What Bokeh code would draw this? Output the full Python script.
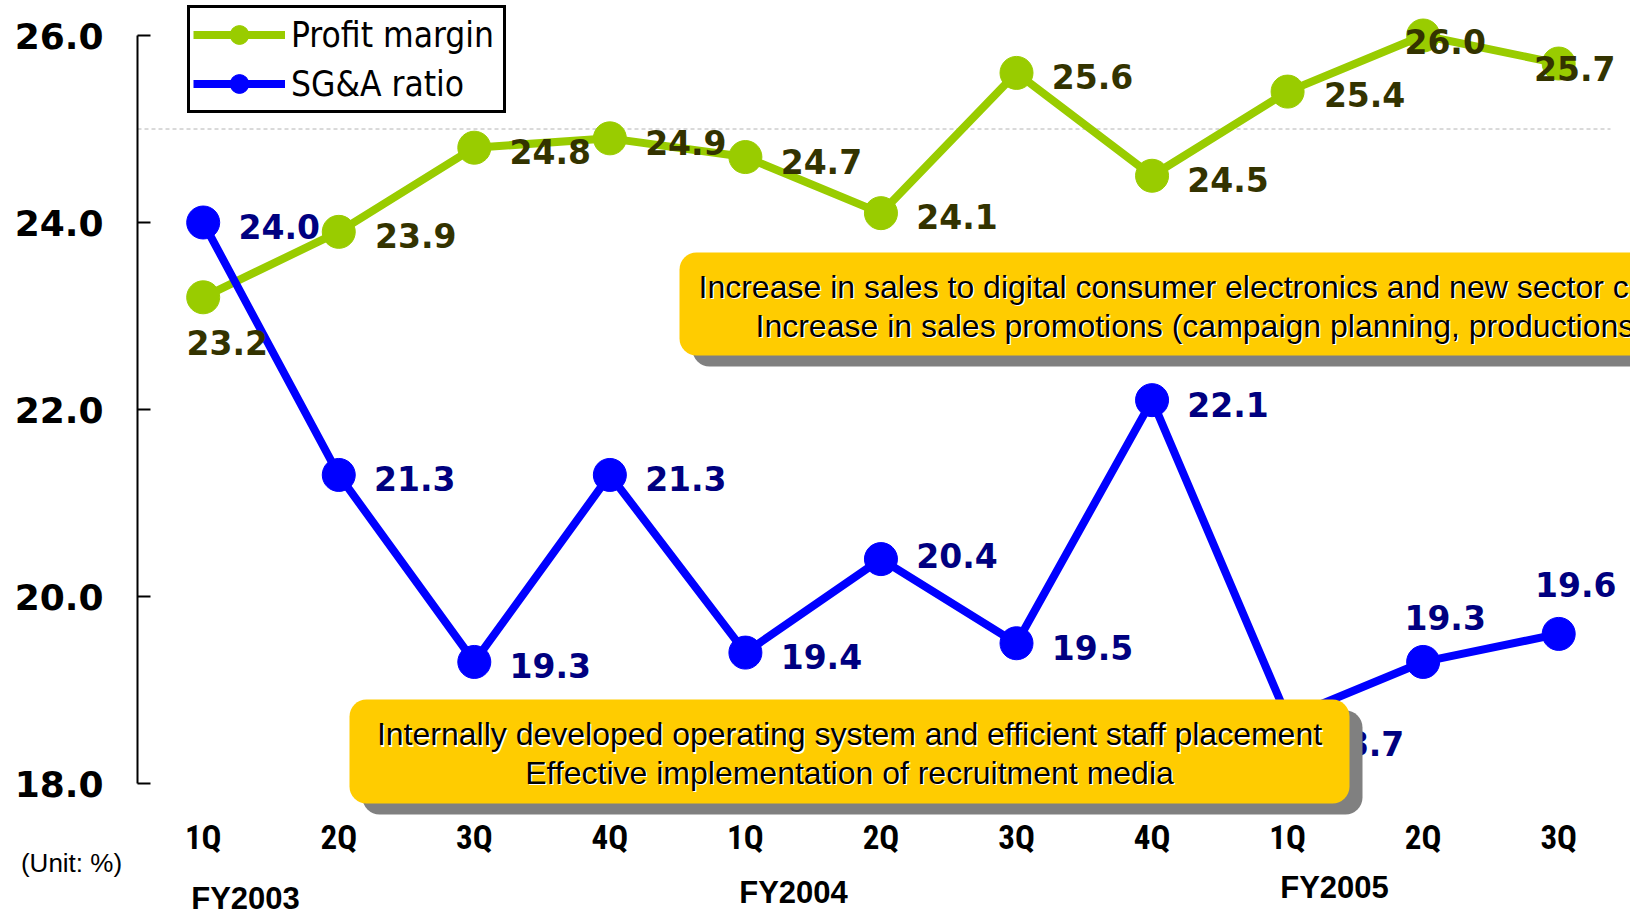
from bokeh.plotting import figure
from bokeh.models import (Range1d, LinearAxis, FixedTicker, Legend, LegendItem,
                          ColumnDataSource, PrintfTickFormatter)
from bokeh.core.properties import value
from bokeh.embed import file_html
from bokeh.resources import INLINE

# ---------------- data ----------------
quarters = ["1Q", "2Q", "3Q", "4Q", "1Q", "2Q", "3Q", "4Q", "1Q", "2Q", "3Q"]
profit_margin = [23.2, 23.9, 24.8, 24.9, 24.7, 24.1, 25.6, 24.5, 25.4, 26.0, 25.7]
sga_ratio = [24.0, 21.3, 19.3, 21.3, 19.4, 20.4, 19.5, 22.1, 18.7, 19.3, 19.6]
y_ticks = [18, 20, 22, 24, 26]
fiscal_years = ["FY2003", "FY2004", "FY2005"]
reference_level = 25.0
unit_text = "(Unit: %)"
note_bottom = ["Internally developed operating system and efficient staff placement",
               "Effective implementation of recruitment media"]
note_top = ["Increase in sales to digital consumer electronics and new sector clients",
            "Increase in sales promotions (campaign planning, productions, etc.)"]

# ---------------- styling / layout ----------------
GREEN = "#99CC00"
BLUE = "#0000FF"
W, H = 1630, 914
AXIS_X_PX, AXIS_Y_PX = 137, 815              # y-axis line, x-axis (label) line
X0PX, DX = 202.7, 135.55                     # px of index 0, px per category
Y26PX, DY = 35.0, 93.5                       # px of value 26, px per unit


def X(px):
    return (px - X0PX) / DX


def Y(px):
    return 26 - (px - Y26PX) / DY


profit_dx = [24, 77, 76, 76, 76, 76, 76, 76, 77, 22, 16]
profit_dy = [45, 4, 4, 4, 4, 3, 4, 4, 3, 6, 5]
sga_dx = [76, 76, 76, 76, 76, 76, 76, 76, 76, 22, 17]
sga_dy = [4, 4, 4, 4, 4, -4, 4, 4, 25, -44, -49]

p = figure(width=W, height=H, x_range=Range1d(X(0), X(W)), y_range=Range1d(Y(H), Y(0)),
           output_backend="svg", toolbar_location=None,
           x_axis_location=None, y_axis_location=None,
           min_border_left=0, min_border_right=0, min_border_top=0, min_border_bottom=0)
p.outline_line_color = None
p.grid.grid_line_color = None
p.background_fill_color = "white"
p.border_fill_color = "white"

# y axis
yaxis = LinearAxis(ticker=FixedTicker(ticks=y_ticks), bounds=(min(y_ticks), max(y_ticks)),
                   formatter=PrintfTickFormatter(format="%.1f"), fixed_location=X(AXIS_X_PX))
yaxis.axis_line_width = 2
yaxis.axis_line_color = "black"
yaxis.major_tick_in = 13
yaxis.major_tick_out = 0
yaxis.major_tick_line_width = 2
yaxis.minor_tick_line_color = None
yaxis.major_label_standoff = 34
yaxis.major_label_text_font = "DejaVu Sans"
yaxis.major_label_text_font_style = "bold"
yaxis.major_label_text_font_size = "36px"
yaxis.major_label_text_color = "black"
p.add_layout(yaxis, "left")

# x axis (quarter labels)
xaxis = LinearAxis(ticker=FixedTicker(ticks=list(range(len(quarters)))),
                   major_label_overrides={i: q for i, q in enumerate(quarters)},
                   fixed_location=Y(AXIS_Y_PX))
xaxis.axis_line_color = None
xaxis.major_tick_line_color = None
xaxis.minor_tick_line_color = None
xaxis.major_tick_in = 0
xaxis.major_tick_out = 0
xaxis.major_label_standoff = 2
xaxis.major_label_text_font = "'Roboto Condensed', 'DejaVu Sans Condensed', sans-serif"
xaxis.major_label_text_font_style = "bold"
xaxis.major_label_text_font_size = "33px"
xaxis.major_label_text_color = "black"
p.add_layout(xaxis, "below")

xs = list(range(len(quarters)))
src = ColumnDataSource(dict(
    x=xs, profit=profit_margin, sga=sga_ratio,
    plabel=[f"{v:.1f}" for v in profit_margin],
    slabel=[f"{v:.1f}" for v in sga_ratio],
    pdx=profit_dx, pdy=profit_dy, sdx=sga_dx, sdy=sga_dy,
))

# reference dashed line
p.segment(x0=[X(AXIS_X_PX)], y0=[reference_level], x1=[X(1610)], y1=[reference_level],
          line_color="#B4B4B4", line_width=1, line_dash="4 3")

r_pl = p.line("x", "profit", source=src, line_color=GREEN, line_width=8)
r_pm = p.scatter("x", "profit", source=src, size=33, fill_color=GREEN, line_color=GREEN)
r_sl = p.line("x", "sga", source=src, line_color=BLUE, line_width=8)
r_sm = p.scatter("x", "sga", source=src, size=33, fill_color=BLUE, line_color=BLUE)

p.text("x", "profit", text="plabel", source=src, x_offset="pdx", y_offset="pdy",
       text_align="center", text_baseline="middle", text_font=value("DejaVu Sans"),
       text_font_style="bold", text_font_size="33px", text_color="#333300")
p.text("x", "sga", text="slabel", source=src, x_offset="sdx", y_offset="sdy",
       text_align="center", text_baseline="middle", text_font=value("DejaVu Sans"),
       text_font_style="bold", text_font_size="33px", text_color="#000080")

# annotation boxes (shadow + yellow rounded box)
SH_X, SH_Y = 13, 11
p.quad(left=[X(349 + SH_X), X(679 + SH_X)], right=[X(1349 + SH_X), X(1760 + SH_X)],
       top=[Y(699 + SH_Y), Y(252 + SH_Y)], bottom=[Y(803 + SH_Y), Y(355 + SH_Y)],
       fill_color="#808080", line_color=None, border_radius=17)
p.quad(left=[X(349), X(679)], right=[X(1349), X(1760)],
       top=[Y(699), Y(252)], bottom=[Y(803), Y(355)],
       fill_color="#FFCC00", line_color=None, border_radius=17)

note_font = value("Liberation Sans")
for off, col in ((1.5, "white"), (0, "black")):
    p.text(x=[X(849), X(849)], y=[Y(733.5), Y(772)], text=note_bottom,
           x_offset=off, y_offset=off, text_align="center", text_baseline="middle",
           text_font=note_font, text_font_size="32px", text_color=col)
    p.text(x=[X(698), X(755)], y=[Y(286), Y(325)], text=note_top,
           x_offset=off, y_offset=off, text_align="left", text_baseline="middle",
           text_font=note_font, text_font_size="32px", text_color=col)

# fiscal year labels and unit
p.text(x=[X(245), X(793), X(1334)], y=[Y(898), Y(892), Y(887)], text=fiscal_years,
       text_align="center", text_baseline="middle", text_font=value("Liberation Sans"),
       text_font_style="bold", text_font_size="31px", text_color="black")
p.text(x=[X(71)], y=[Y(862)], text=[unit_text], text_align="center", text_baseline="middle",
       text_font=value("Liberation Sans"), text_font_size="26px", text_color="black")

legend = Legend(items=[LegendItem(label="Profit margin", renderers=[r_pl, r_pm]),
                       LegendItem(label="SG&A ratio", renderers=[r_sl, r_sm])],
                location=(187, H - 113))
legend.padding = 3
legend.spacing = 2
legend.margin = 0
legend.glyph_width = 92
legend.glyph_height = 47
legend.label_height = 47
legend.label_standoff = 6
legend.label_width = 209
legend.label_text_font = "DejaVu Sans Condensed"
legend.label_text_font_size = "35px"
legend.label_text_color = "black"
legend.border_line_color = "black"
legend.border_line_alpha = 1.0
legend.border_line_width = 3
legend.background_fill_color = "white"
legend.background_fill_alpha = 1
p.add_layout(legend)

open("out.html", "w").write(file_html(p, INLINE))
